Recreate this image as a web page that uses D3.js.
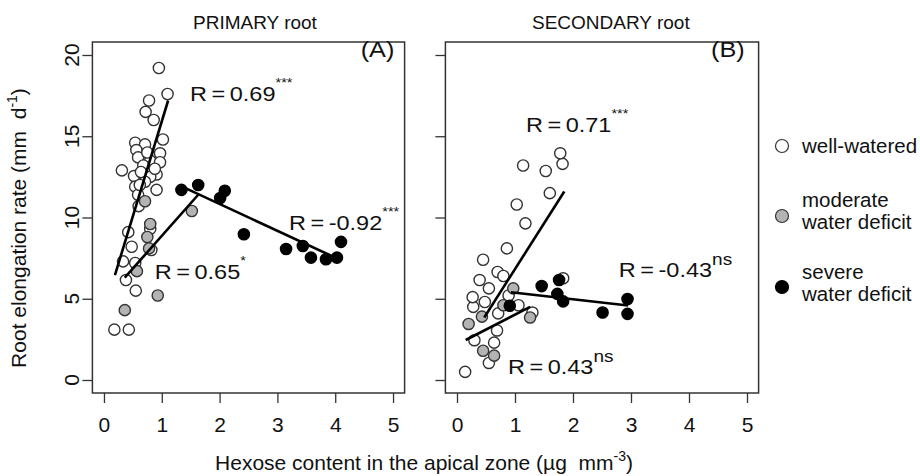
<!DOCTYPE html>
<html>
<head>
<meta charset="utf-8">
<script src="https://cdn.jsdelivr.net/npm/d3@7/dist/d3.min.js"></script>
<style>
  body { margin: 0; background: #fff; }
  text { font-family: "Liberation Sans", Arial, sans-serif; fill: #111; }
</style>
</head>
<body>
<script>
// ---- data: [hexose, elongation rate] ----
var primaryWell = [[0.95,19.2],[1.10,17.6],[0.78,17.2],[0.72,16.5],[0.86,16.0],[1.02,14.8],
  [0.54,14.6],[0.71,14.5],[0.56,14.15],[0.97,13.95],[0.59,13.7],[0.80,13.5],[0.97,13.4],
  [0.68,13.2],[0.31,12.9],[0.52,12.55],[0.91,12.65],[0.80,12.5],[0.71,12.2],[0.54,11.9],
  [0.91,11.7],[0.59,11.4],[0.64,12.8],[0.75,14.0],[0.88,13.0],[0.62,12.0],[0.60,10.7],
  [0.42,9.1],[0.48,8.2],[0.33,7.3],[0.54,7.2],[0.38,6.15],[0.55,5.5],[0.18,3.1],[0.43,3.1],
  [0.80,9.3],[0.82,8.0]];
var primaryModerate = [[0.71,11.0],[0.80,9.6],[0.75,8.8],[0.78,8.1],[0.57,6.7],[0.36,4.3],
  [0.93,5.2],[1.52,10.4]];
var primarySevere = [[1.34,11.7],[1.63,12.0],[2.01,11.2],[2.09,11.65],[2.42,8.97],[3.15,8.06],
  [3.44,8.25],[3.58,7.53],[3.84,7.43],[4.03,7.53],[4.10,8.5]];

var secondaryWell = [[0.14,0.5],[0.55,1.05],[0.64,2.3],[0.30,2.45],[0.69,3.05],[0.28,4.5],
  [0.48,4.8],[0.71,4.1],[1.06,4.6],[1.30,4.15],[0.89,5.2],[0.27,5.1],[0.55,5.64],[0.39,6.15],
  [0.70,6.65],[0.45,7.4],[0.86,8.1],[1.18,9.64],[1.03,10.8],[1.60,11.5],[1.53,12.86],
  [1.14,13.2],[1.82,13.3],[1.78,13.95],[1.83,6.26],[0.80,6.4]];
var secondaryModerate = [[0.97,5.64],[0.80,4.6],[0.43,3.9],[0.20,3.45],[1.26,3.85],[0.45,1.8],[0.64,1.5]];
var secondarySevere = [[0.91,4.57],[1.46,5.78],[1.76,6.15],[1.73,5.3],[1.83,4.84],[2.51,4.15],
  [2.94,4.98],[2.94,4.07]];

// regression lines: [x0, y0, x1, y1] for well-watered, moderate, severe
var primaryFits = [[0.19,6.46,1.11,17.2],[0.36,6.3,1.63,11.4],[1.38,11.85,4.05,7.45]];
var secondaryFits = [[0.47,3.85,1.85,11.6],[0.15,2.46,1.26,4.5],[0.93,5.4,2.95,4.58]];

var primaryR = ["0.69","0.65","-0.92"], primarySig = ["***","*","***"];
var secondaryR = ["0.71","0.43","-0.43"], secondarySig = ["***","ns","ns"];

var xTicks = [0,1,2,3,4,5];
var yTicks = [0,5,10,15,20];
var legendLabels = [["well-watered"],["moderate","water deficit"],["severe","water deficit"]];
var fills = ["#fff","#b3b3b3","#000"];

// ---- layout ----
var width = 920, height = 476;
var svg = d3.select("body").append("svg")
    .attr("width", width)
    .attr("height", height);

var y = d3.scaleLinear().domain([-0.8, 20.8]).range([393, 42]);

var panels = [
  {title: "PRIMARY root", titleX: 193, tag: "(A)", tagX: 4.44, range: [92.4, 404.6],
   groups: [primaryWell, primaryModerate, primarySevere], fits: primaryFits,
   r: primaryR, sig: primarySig,
   labelPos: [[1.49,17.2],[0.88,6.2],[3.2,9.23]], yLabels: true},
  {title: "SECONDARY root", titleX: 532, tag: "(B)", tagX: 4.38, range: [445.4, 758.6],
   groups: [secondaryWell, secondaryModerate, secondarySevere], fits: secondaryFits,
   r: secondaryR, sig: secondarySig,
   labelPos: [[1.19,15.26],[0.88,0.37],[2.79,6.34]], yLabels: false}
];

panels.forEach(function(p) {
  var x = d3.scaleLinear().domain([-0.2, 5.2]).range(p.range);
  var g = svg.append("g");

  // frame
  g.append("rect")
      .attr("x", x(-0.2)).attr("y", y(20.8))
      .attr("width", x(5.2) - x(-0.2)).attr("height", y(-0.8) - y(20.8))
      .attr("fill", "none").attr("stroke", "#333").attr("stroke-width", 1.5);

  // x axis
  var xa = g.append("g")
      .attr("transform", "translate(0," + y(-0.8) + ")")
      .call(d3.axisBottom(x).tickValues(xTicks).tickFormat(d3.format("d"))
        .tickSize(10).tickPadding(14));
  xa.select(".domain").remove();
  xa.selectAll("line").attr("stroke", "#333").attr("stroke-width", 1.3);
  xa.selectAll("text").attr("font-size", "21px").attr("fill", "#111")
      .attr("font-family", "Liberation Sans, Arial, sans-serif");

  // y axis (ticks only, labels drawn rotated below)
  var ya = g.append("g")
      .attr("transform", "translate(" + x(-0.2) + ",0)")
      .call(d3.axisLeft(y).tickValues(yTicks).tickSize(10));
  ya.select(".domain").remove();
  ya.selectAll("text").remove();
  ya.selectAll("line").attr("stroke", "#333").attr("stroke-width", 1.3);
  if (p.yLabels) {
    g.append("g").selectAll("text")
        .data(yTicks)
      .enter().append("text")
        .attr("transform", function(d) {
          return "translate(" + (x(-0.2) - 13) + "," + y(d) + ") rotate(-90)"; })
        .attr("text-anchor", "middle")
        .attr("font-size", "21px")
        .text(function(d) { return d; });
  }

  // title and tag
  g.append("text")
      .attr("x", p.titleX).attr("y", 29)
      .attr("font-size", "19px")
      .text(p.title);
  g.append("text")
      .attr("transform", "translate(" + x(p.tagX) + "," + y(19.85) + ") scale(1.15,1)")
      .attr("font-size", "22px")
      .text(p.tag);

  // points: well-watered, then moderate, then severe on top
  p.groups.forEach(function(pts, i) {
    g.append("g").selectAll("circle")
        .data(pts)
      .enter().append("circle")
        .attr("cx", function(d) { return x(d[0]); })
        .attr("cy", function(d) { return y(d[1]); })
        .attr("r", 5.6)
        .attr("fill", fills[i])
        .attr("stroke", i === 2 ? "#000" : "#333")
        .attr("stroke-width", 1.4);
  });

  // regression lines
  g.append("g").selectAll("line")
      .data(p.fits)
    .enter().append("line")
      .attr("x1", function(d) { return x(d[0]); })
      .attr("y1", function(d) { return y(d[1]); })
      .attr("x2", function(d) { return x(d[2]); })
      .attr("y2", function(d) { return y(d[3]); })
      .attr("stroke", "#000")
      .attr("stroke-width", 2.6);

  // R labels, stretched a little sideways like the original
  p.r.forEach(function(r, i) {
    var t = g.append("text")
        .attr("transform", "translate(" + x(p.labelPos[i][0]) + "," + y(p.labelPos[i][1]) +
          ") scale(1.12,1)")
        .attr("font-size", "21px");
    t.append("tspan").text("R");
    t.append("tspan").attr("dx", 4).text("=");
    t.append("tspan").attr("dx", 4).text(r);
    t.append("tspan")
        .attr("dy", p.sig[i] === "ns" ? -12 : -14)
        .attr("font-size", p.sig[i] === "ns" ? "17px" : "13px")
        .text(p.sig[i]);
  });
});

// axis titles
svg.append("text")
    .attr("x", 424).attr("y", 470)
    .attr("text-anchor", "middle")
    .attr("font-size", "21px")
    .call(function(t) {
      t.append("tspan").text("Hexose content in the apical zone (\u00b5g\u00a0\u00a0mm");
      t.append("tspan").attr("dy", -9).attr("font-size", "14px").text("-3");
      t.append("tspan").attr("dy", 9).text(")");
    });

svg.append("text")
    .attr("transform", "translate(26,228) rotate(-90)")
    .attr("text-anchor", "middle")
    .attr("font-size", "21px")
    .call(function(t) {
      t.append("tspan").text("Root elongation rate (mm\u00a0\u00a0d");
      t.append("tspan").attr("dy", -9).attr("font-size", "14px").text("-1");
      t.append("tspan").attr("dy", 9).text(")");
    });

// legend
var legendY = [146, 216, 287];
var legendLineY = [[153], [207, 229], [279, 301]];
var legend = svg.append("g");
legendLabels.forEach(function(lines, i) {
  legend.append("circle")
      .attr("cx", 782).attr("cy", legendY[i]).attr("r", 6.5)
      .attr("fill", fills[i]).attr("stroke", i === 2 ? "#000" : "#333")
      .attr("stroke-width", 1.2);
  lines.forEach(function(s, j) {
    legend.append("text")
        .attr("x", 802).attr("y", legendLineY[i][j])
        .attr("font-size", "20.5px")
        .text(s);
  });
});
</script>
</body>
</html>
